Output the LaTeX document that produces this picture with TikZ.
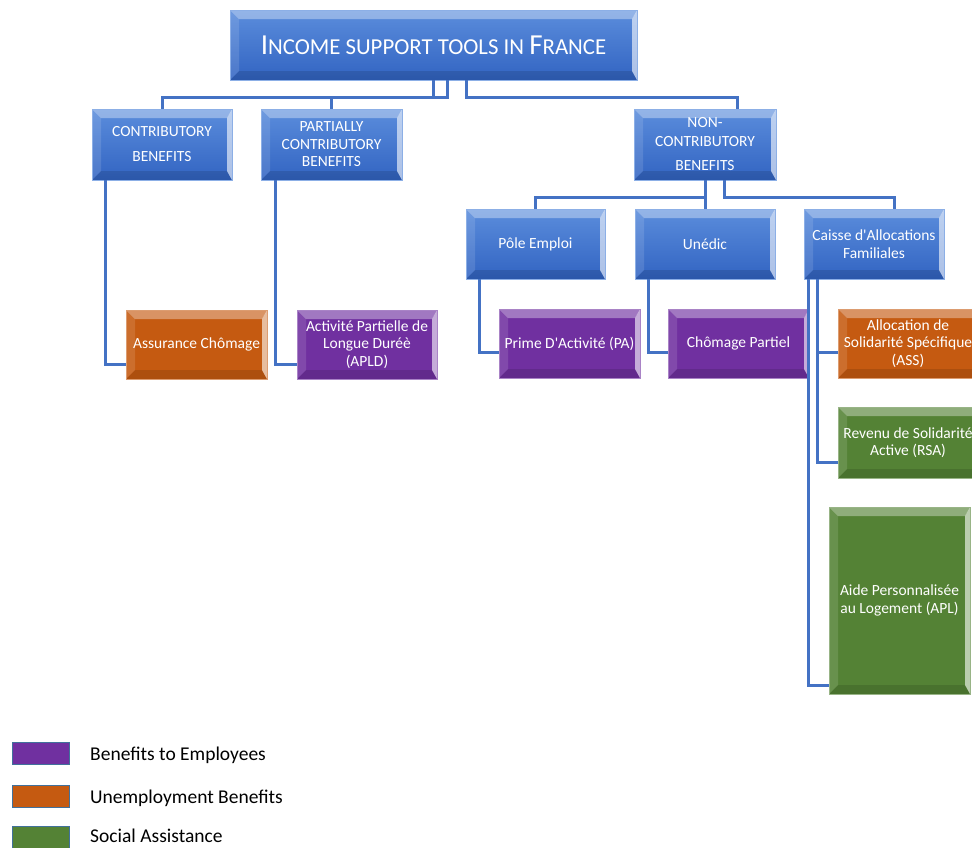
\documentclass[tikz,border=0pt]{standalone}
\usepackage{fontspec}
\setmainfont{Carlito}
\definecolor{bluetop}{HTML}{5B8DDC}
\definecolor{bluebot}{HTML}{3264C2}
\definecolor{purp}{HTML}{7030A0}
\definecolor{oran}{HTML}{C55A11}
\definecolor{gren}{HTML}{548235}
\definecolor{connc}{HTML}{4472C4}
\definecolor{swb}{HTML}{41719C}
\tikzset{
  bevelfx/.style={path picture={
    \fill[white,opacity=0.35] (path picture bounding box.north west) -- (path picture bounding box.north east)
      -- ([xshift=-5pt,yshift=-9pt]path picture bounding box.north east) -- ([xshift=9pt,yshift=-9pt]path picture bounding box.north west) -- cycle;
    \fill[white,opacity=0.12] (path picture bounding box.north west) -- ([xshift=9pt,yshift=-9pt]path picture bounding box.north west)
      -- ([xshift=9pt,yshift=9pt]path picture bounding box.south west) -- (path picture bounding box.south west) -- cycle;
    \fill[black,opacity=0.12] (path picture bounding box.south west) -- ([xshift=9pt,yshift=9pt]path picture bounding box.south west)
      -- ([xshift=-5pt,yshift=9pt]path picture bounding box.south east) -- (path picture bounding box.south east) -- cycle;
    \fill[white,opacity=0.6] (path picture bounding box.north east) -- ([xshift=-5pt,yshift=-9pt]path picture bounding box.north east)
      -- ([xshift=-5pt,yshift=9pt]path picture bounding box.south east) -- (path picture bounding box.south east) -- cycle;
  }},
  boxtxt/.style={text=white, align=center, inner sep=0pt, font=\fontsize{15.5}{17.5}\selectfont},
  bluebox/.style={boxtxt, top color=bluetop, bottom color=bluebot, draw=bluetop!70!white, line width=0.6pt, bevelfx},
  colbox/.style={boxtxt, fill=#1, draw=#1!60!white, line width=0.6pt, bevelfx},
  conn/.style={draw=connc, line width=3pt},
  swatch/.style={fill=#1, draw=swb, line width=1pt, minimum width=57pt, minimum height=22pt, inner sep=0pt},
  legtxt/.style={anchor=west, inner sep=0pt, font=\fontsize{19.5}{22}\selectfont}
}
\begin{document}
\begin{tikzpicture}[x=1pt,y=1pt]
\useasboundingbox (0,0) rectangle (972,-847);
% top
\node[bluebox, minimum width=407pt, minimum height=70pt] (title) at (433.5,-45)
  {{\fontsize{29}{30}\selectfont I}{\fontsize{22.8}{30}\selectfont NCOME SUPPORT TOOLS IN }{\fontsize{29}{30}\selectfont F}{\fontsize{22.8}{30}\selectfont RANCE}};
% level 1
\node[bluebox, minimum width=140pt, minimum height=71pt] (cb) at (162,-144.5) {CONTRIBUTORY\\[7.5pt]BENEFITS};
\node[bluebox, minimum width=141pt, minimum height=71pt] (pcb) at (331.5,-144.5) {PARTIALLY\\CONTRIBUTORY\\BENEFITS};
\node[bluebox, minimum width=142pt, minimum height=71pt] (ncb) at (705,-144.5) {NON-\\[1.5pt]CONTRIBUTORY\\[6.5pt]BENEFITS};
% level 2
\node[bluebox, minimum width=139pt, minimum height=70pt] (pe) at (535.5,-244) {Pôle Emploi};
\node[bluebox, minimum width=140pt, minimum height=70pt] (un) at (705,-244) {Unédic};
\node[bluebox, minimum width=140pt, minimum height=70pt] (caf) at (874,-244) {Caisse d\textquotesingle Allocations\\Familiales};
% level 3
\node[colbox=oran, minimum width=141pt, minimum height=69pt] (ac) at (196.5,-344.5) {Assurance Chômage};
\node[colbox=purp, minimum width=140pt, minimum height=69pt] (apld) at (367,-344.5) {Activité Partielle de\\Longue Duréè\\(APLD)};
\node[colbox=purp, minimum width=141pt, minimum height=69pt] (pa) at (569.5,-343.5) {Prime D\textquotesingle Activité (PA)};
\node[colbox=purp, minimum width=141pt, minimum height=69pt] (cp) at (738.5,-343.5) {Chômage Partiel};
\node[colbox=oran, minimum width=140pt, minimum height=69pt] (ass) at (908,-343.5) {Allocation de\\Solidarité Spécifique\\(ASS)};
\node[colbox=gren, minimum width=140pt, minimum height=71pt] (rsa) at (908,-442.5) {Revenu de Solidarité\\Active (RSA)};
\node[colbox=gren, minimum width=141pt, minimum height=187pt] (apl) at (899.5,-600.5) {Aide Personnalisée\\au Logement (APL)};
% bus coordinates
\coordinate (bus1) at (0,-97);
\coordinate (bus2) at (0,-197);
\coordinate (ncbin) at ([xshift=32pt]ncb.north);
\coordinate (cafin) at ([xshift=20pt]caf.north);
% connectors from title
\draw[conn] ([xshift=-0.5pt]title.south) |- (bus1 -| cb.north) -- (cb.north);
\draw[conn] ([xshift=13.5pt]title.south) |- (bus1 -| pcb.north) -- (pcb.north);
\draw[conn] ([xshift=32.5pt]title.south) |- (bus1 -| ncbin) -- (ncbin);
% connectors from non-contributory
\draw[conn] (ncb.south) |- (bus2 -| pe.north) -- (pe.north);
\draw[conn] (ncb.south) -- (un.north);
\draw[conn] ([xshift=19pt]ncb.south) |- (bus2 -| cafin) -- (cafin);
% connectors to leaves
\draw[conn] ([xshift=-57pt]cb.south) |- ([yshift=-19.5pt]ac.west);
\draw[conn] ([xshift=-56.5pt]pcb.south) |- ([yshift=-19.5pt]apld.west);
\draw[conn] ([xshift=-56.5pt]pe.south) |- ([yshift=-8.5pt]pa.west);
\draw[conn] ([xshift=-57pt]un.south) |- ([yshift=-8.5pt]cp.west);
\draw[conn] ([xshift=-57pt]caf.south) |- ([yshift=-8.5pt]ass.west);
\draw[conn] ([xshift=-57pt]caf.south) |- ([yshift=-19.5pt]rsa.west);
\draw[conn] ([xshift=-66pt]caf.south) |- ([yshift=-84.5pt]apl.west);
% legend
\node[swatch=purp] (sw1) at (40.5,-753.5) {};
\node[swatch=oran] (sw2) at (40.5,-796.5) {};
\node[swatch=gren] (sw3) at (40.5,-837.5) {};
\node[legtxt] (lg1) at (90,-755) {Benefits to Employees};
\node[legtxt] (lg2) at (90,-798) {Unemployment Benefits};
\node[legtxt] (lg3) at (90,-835.5) {Social Assistance};
\end{tikzpicture}
\end{document}
